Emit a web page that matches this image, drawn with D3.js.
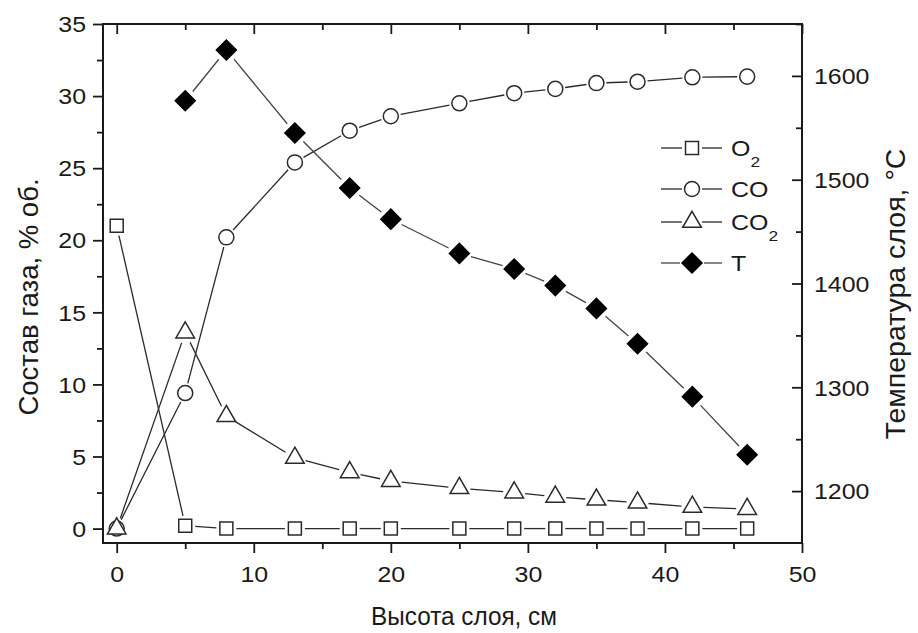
<!DOCTYPE html>
<html>
<head>
<meta charset="utf-8">
<script src="https://cdn.jsdelivr.net/npm/d3@7"></script>
<style>
  body { margin: 0; background: #fff; }
  svg { display: block; }
  text { font-family: "Liberation Sans", Arial, sans-serif; fill: #1a1a1a; }
</style>
</head>
<body>
<svg></svg>
<script>
const w = 918
const h = 633

// data
const heights = [0, 5, 8, 13, 17, 20, 25, 29, 32, 35, 38, 42, 46]
const o2 = [21, 0.2, 0, 0, 0, 0, 0, 0, 0, 0, 0, 0, 0]
const co = [0, 9.4, 20.2, 25.4, 27.6, 28.6, 29.5, 30.2, 30.5, 30.9, 31.0, 31.3, 31.35]
const co2 = [0, 13.6, 7.8, 4.9, 3.9, 3.3, 2.8, 2.5, 2.2, 2.0, 1.8, 1.5, 1.35]
const tHeights = [5, 8, 13, 17, 20, 25, 29, 32, 35, 38, 42, 46]
const temp = [1576, 1625, 1545, 1492, 1462, 1429, 1414, 1398, 1376, 1342, 1291, 1235]

const xTicks = [0, 10, 20, 30, 40, 50]
const yTicks = [0, 5, 10, 15, 20, 25, 30, 35]
const tTicks = [1200, 1300, 1400, 1500, 1600]

const svg = d3.select('svg').attr('width', w).attr('height', h)

const margin = {top: 24, right: 116, bottom: 90, left: 103}
const x0 = margin.left, x1 = w - margin.right
const y0 = h - margin.bottom, y1 = margin.top

const xScale = d3.scaleLinear().domain([-1, 50]).range([x0, x1])
const yScale = d3.scaleLinear().domain([-1, 35]).range([y0, y1])
const tScale = d3.scaleLinear().domain([1150, 1650]).range([y0, y1])

const ink = '#1a1a1a'
const labelSize = 21.5
const stretch = 1.16 // the tick numbers in the original are a bit wide

// ---- axes ----
const g = svg.append('g')

// bottom
const xAxis = g.append('g').attr('transform', `translate(0,${y0})`)
  .call(d3.axisBottom(xScale).tickValues(d3.range(0, 51, 5)).tickSize(10).tickFormat(''))
xAxis.selectAll('.tick line').attr('y2', d => d % 10 === 0 ? 10 : 6)
xAxis.selectAll('.tick')
  .filter(d => xTicks.includes(d))
  .append('text')
  .attr('transform', `translate(0,39) scale(${stretch},1)`)
  .attr('text-anchor', 'middle')
  .text(d => d)

// top (mirror, inward)
const xTop = g.append('g').attr('transform', `translate(0,${y1})`)
  .call(d3.axisBottom(xScale).tickValues(d3.range(0, 51, 5)).tickSize(10).tickFormat(''))
xTop.selectAll('.tick line').attr('y2', d => d % 10 === 0 ? 10 : 6)

// left
const yAxis = g.append('g').attr('transform', `translate(${x0},0)`)
  .call(d3.axisLeft(yScale).tickValues(d3.range(0, 35.1, 2.5)).tickSize(10).tickFormat(''))
yAxis.selectAll('.tick line').attr('x2', d => d % 5 === 0 ? -10 : -6)
yAxis.selectAll('.tick')
  .filter(d => yTicks.includes(d))
  .append('text')
  .attr('transform', `translate(-17,0) scale(${stretch},1)`)
  .attr('dy', '0.36em').attr('text-anchor', 'end')
  .text(d => d)

// right (temperature), ticks inward
const tAxis = g.append('g').attr('transform', `translate(${x1},0)`)
  .call(d3.axisRight(tScale).tickValues(d3.range(1200, 1651, 50)).tickSize(10).tickFormat(''))
tAxis.selectAll('.tick line').attr('x2', d => d % 100 === 0 ? -10 : -6)
tAxis.selectAll('.tick')
  .filter(d => tTicks.includes(d))
  .append('text')
  .attr('transform', `translate(12,0) scale(${stretch},1)`)
  .attr('dy', '0.36em').attr('text-anchor', 'start')
  .text(d => d)

g.selectAll('.domain').remove()
g.selectAll('.tick line').attr('stroke', ink).attr('stroke-width', 1.8)
g.selectAll('.tick text')
  .attr('fill', ink)
  .attr('font-size', labelSize)
  .attr('font-family', '"Liberation Sans", Arial, sans-serif')

// frame
g.append('rect')
  .attr('x', x0).attr('y', y1).attr('width', x1 - x0).attr('height', y0 - y1)
  .attr('fill', 'none').attr('stroke', ink).attr('stroke-width', 2)

// axis titles
svg.append('text')
  .attr('x', 464).attr('y', 625).attr('text-anchor', 'middle')
  .attr('font-size', 26)
  .attr('textLength', 186).attr('lengthAdjust', 'spacingAndGlyphs')
  .text('Высота слоя, см')
svg.append('text')
  .attr('transform', 'translate(38,297) rotate(-90)')
  .attr('text-anchor', 'middle').attr('font-size', 27.5)
  .text('Состав газа, % об.')
svg.append('text')
  .attr('transform', 'translate(905,294) rotate(-90)')
  .attr('text-anchor', 'middle').attr('font-size', 28.5)
  .text('Температура слоя, °С')

// ---- series ----
const shapes = {
  square: {sym: d3.symbolSquare, size: 169, rot: 0, gap: 10},
  circle: {sym: d3.symbolCircle, size: 177, rot: 0, gap: 10},
  triangle: {sym: d3.symbolTriangle, size: 150, rot: 0, gap: 11},
  diamond: {sym: d3.symbolSquare, size: 200, rot: 45, gap: 12}
}

const series = [
  {name: 'O2', xs: heights, ys: o2, scale: yScale, shape: 'square', fill: '#fff', line: '#2a2a2a'},
  {name: 'CO', xs: heights, ys: co, scale: yScale, shape: 'circle', fill: '#fff', line: '#2a2a2a'},
  {name: 'CO2', xs: heights, ys: co2, scale: yScale, shape: 'triangle', fill: '#fff', line: '#2a2a2a'},
  {name: 'T', xs: tHeights, ys: temp, scale: tScale, shape: 'diamond', fill: '#000', line: '#444'}
]

const plot = svg.append('g')

// connecting lines with small gaps around markers
series.forEach(s => {
  const pts = s.xs.map((xv, i) => [xScale(xv), s.scale(s.ys[i])])
  const gap = shapes[s.shape].gap
  const segs = d3.pairs(pts).map(([a, b]) => {
    const dx = b[0] - a[0], dy = b[1] - a[1]
    const len = Math.hypot(dx, dy)
    if (len <= 2 * gap) return null
    const ux = dx / len, uy = dy / len
    return [a[0] + ux * gap, a[1] + uy * gap, b[0] - ux * gap, b[1] - uy * gap]
  }).filter(Boolean)
  plot.selectAll(null).data(segs).enter().append('line')
    .attr('x1', d => d[0]).attr('y1', d => d[1])
    .attr('x2', d => d[2]).attr('y2', d => d[3])
    .attr('stroke', s.line).attr('stroke-width', 1.3)
})

const symbolPath = sh => d3.symbol().type(shapes[sh].sym).size(shapes[sh].size)()

series.forEach(s => {
  const sh = shapes[s.shape]
  plot.selectAll(null).data(s.xs.map((xv, i) => [xv, s.ys[i]])).enter().append('path')
    .attr('d', symbolPath(s.shape))
    .attr('transform', d => `translate(${xScale(d[0])},${s.scale(d[1])}) rotate(${sh.rot})`)
    .attr('fill', s.fill)
    .attr('stroke', s.fill === '#000' ? '#000' : '#2a2a2a')
    .attr('stroke-width', 1.5)
})

// ---- legend ----
const legend = svg.append('g').attr('transform', 'translate(661,0)')
const legendRows = [
  {s: series[0], y: 148, label: 'O', sub: '2'},
  {s: series[1], y: 189, label: 'CO', sub: ''},
  {s: series[2], y: 222, label: 'CO', sub: '2'},
  {s: series[3], y: 263, label: 'T', sub: ''}
]
legendRows.forEach(r => {
  const sh = shapes[r.s.shape]
  const row = legend.append('g').attr('transform', `translate(0,${r.y})`)
  const half = r.s.shape === 'diamond' ? 12 : 10
  row.append('line').attr('x1', 0).attr('x2', 31 - half).attr('stroke', r.s.line).attr('stroke-width', 1.3)
  row.append('line').attr('x1', 31 + half).attr('x2', 61).attr('stroke', r.s.line).attr('stroke-width', 1.3)
  row.append('path').attr('d', symbolPath(r.s.shape))
    .attr('transform', `translate(31,0) rotate(${sh.rot})`)
    .attr('fill', r.s.fill)
    .attr('stroke', r.s.fill === '#000' ? '#000' : '#2a2a2a')
    .attr('stroke-width', 1.5)
  const t = row.append('text')
    .attr('transform', `translate(70,0) scale(${stretch},1)`)
    .attr('dy', '0.36em').attr('font-size', labelSize)
  t.append('tspan').text(r.label)
  if (r.sub) t.append('tspan').attr('font-size', 15).attr('dy', 11).text(r.sub)
})
</script>
</body>
</html>
